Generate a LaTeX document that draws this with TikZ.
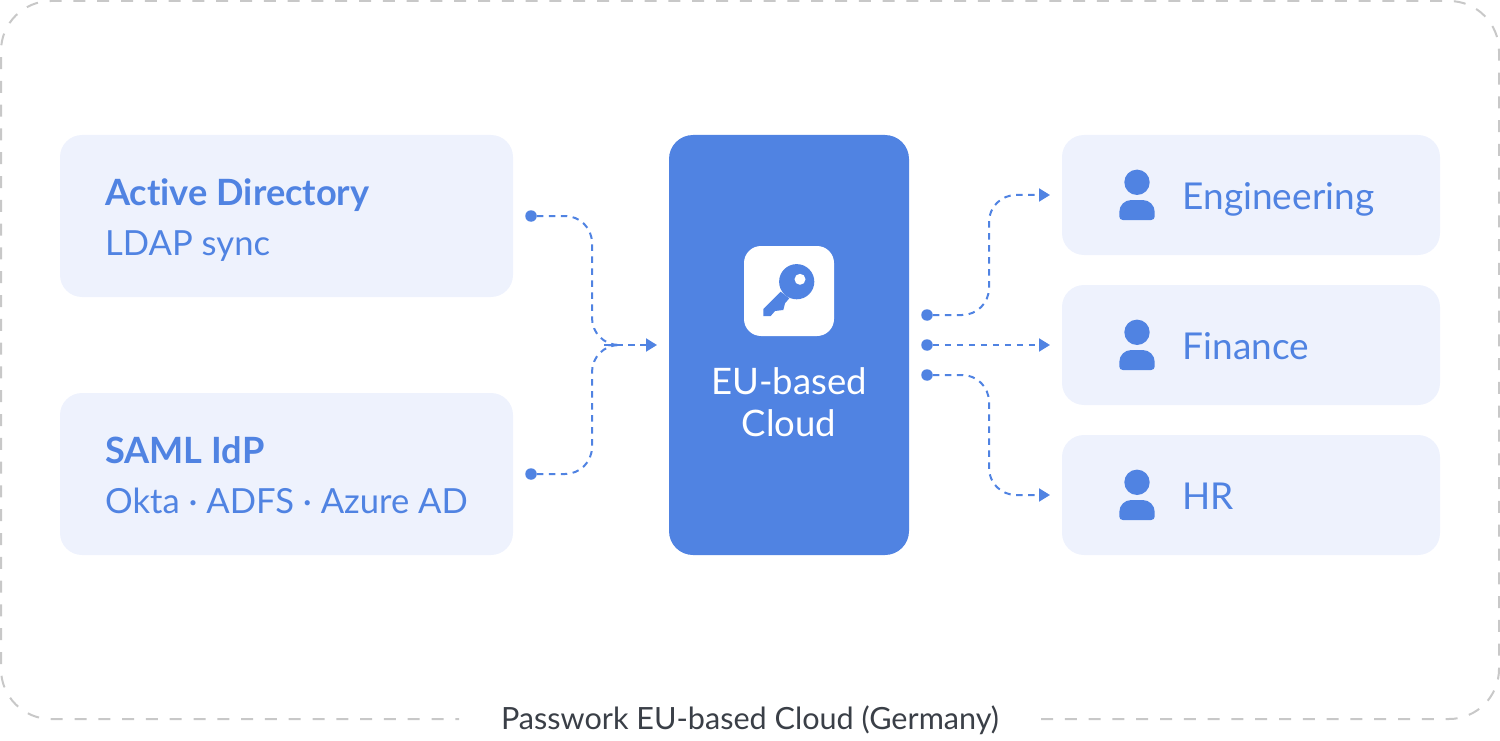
\documentclass[tikz,border=0pt]{standalone}
\usepackage{fontspec}
\setmainfont[Ligatures=NoCommon,Contextuals=NoAlternate]{Lato}
\usetikzlibrary{arrows.meta}
\definecolor{pblue}{HTML}{5083E2}
\definecolor{plight}{HTML}{EEF2FD}
\definecolor{pgrey}{HTML}{C8C8C8}
\definecolor{ptext}{HTML}{3A3F47}
\tikzset{
  panel/.style={fill=plight,rounded corners=22pt,inner sep=0pt,outer sep=0pt,anchor=north west},
  core/.style={fill=pblue,rounded corners=24pt,inner sep=0pt,outer sep=0pt,anchor=north west,minimum width=240pt,minimum height=420pt},
  srcbox/.style={panel,minimum width=453pt,minimum height=162pt},
  teambox/.style={panel,minimum width=378pt,minimum height=120pt},
  dotnode/.style={circle,fill=pblue,inner sep=0pt,minimum size=11.5pt,outer sep=0pt},
  flow/.style={draw=pblue,line width=2pt,dash pattern=on 6.5pt off 5.5pt,rounded corners=27pt},
  flowtip/.style={-{Triangle[length=11pt,width=13pt,fill=pblue]}},
  headtxt/.style={text=pblue,anchor=base west,inner sep=0pt,font=\fontsize{36.2}{40}\selectfont\bfseries},
  subtxt/.style={text=pblue,anchor=base west,inner sep=0pt,font=\fontsize{34.6}{40}\selectfont},
  teamtxt/.style={text=pblue,anchor=base west,inner sep=0pt,font=\fontsize{37}{40}\selectfont},
  person/.pic={
    \fill[pblue] (0,-14.7) circle (12.7pt);
    \fill[pblue] (-17.7,19.5) -- (-17.7,15) arc[start angle=180,end angle=90,radius=12pt]
       -- (5.7,3) arc[start angle=90,end angle=0,radius=12pt] -- (17.7,19.5)
       arc[start angle=0,end angle=-90,radius=3.5pt] -- (-14.2,23)
       arc[start angle=270,end angle=180,radius=3.5pt] -- cycle;
  }
}
\begin{document}
\begin{tikzpicture}[x=1pt,y=-1pt]
\useasboundingbox (0,0) rectangle (1500,741);
% outer dashed frame
\draw[pgrey,line width=2pt,dash pattern=on 12pt off 11.8pt,rounded corners=50pt]
  (1041,719) -- (1499,719) -- (1499,1) -- (1,1) -- (1,719) -- (459,719);
\node[text=ptext,inner sep=0pt,anchor=base,font=\fontsize{30.6}{34}\selectfont] (caption) at (750,729.5) {Passwork EU-based Cloud (Germany)};
% boxes
\node[srcbox] (ad) at (60,135) {};
\node[srcbox] (saml) at (60,393) {};
\node[core] (cloud) at (669,135) {};
\node[teambox] (eng) at (1062,135) {};
\node[teambox] (fin) at (1062,285) {};
\node[teambox] (hr) at (1062,435) {};
% box texts
\node[headtxt] (adt) at (105,205) {Active Directory};
\node[subtxt] (ads) at (105,255.5) {LDAP sync};
\node[headtxt] (samlt) at (105,463) {SAML IdP};
\node[subtxt] (samls) at (105,513.5) {Okta · ADFS · Azure AD};
\node[text=white,inner sep=0pt,align=center,font=\fontsize{36.5}{42}\selectfont,anchor=center] (cloudt) at (789,402) {EU-based\\Cloud};
\node[teamtxt] (engt) at (1182.5,209) {Engineering};
\node[teamtxt] (fint) at (1182.5,359) {Finance};
\node[teamtxt] (hrt) at (1182.5,509) {HR};
% person icons
\pic at (1137,197) {person};
\pic at (1137,347) {person};
\pic at (1137,497) {person};
% key icon
\node[fill=white,rounded corners=17pt,inner sep=0pt,outer sep=0pt,minimum size=90pt,anchor=north west] (keybox) at (744,246) {};
\fill[pblue] (796.7,281.7) circle (17.6pt);
\fill[pblue] (780.7,291.7) -- (763.3,309) -- (763.3,316) -- (770.7,316) -- (775,311) -- (783.3,310) -- (785,303.3) -- (789.3,298.3) -- cycle;
\fill[white] (800,279.3) circle (5.5pt);
% dots
\node[dotnode] (s1) at (531,216) {};
\node[dotnode] (s2) at (531,474) {};
\node[dotnode] (o1) at (927,315) {};
\node[dotnode] (o2) at (927,345) {};
\node[dotnode] (o3) at (927,375) {};
% arrow ends
\coordinate (in) at (657,345);
\coordinate (e1) at (1050,195);
\coordinate (e2) at (1050,345);
\coordinate (e3) at (1050,495);
% connectors
\draw[flow] (s1) -- (592,216) -- (592,345) -- (604,345);
\draw[flow] (s2) -- (592,474) -- (592,345) -- (604,345);
\draw[flow,flowtip,rounded corners=0pt] (604,345) -- (in);
\draw[flow,flowtip] (o1) -- (989,315) -- (989,195) -- (e1);
\draw[flow,flowtip,rounded corners=0pt] (o2) -- (e2);
\draw[flow,flowtip] (o3) -- (989,375) -- (989,495) -- (e3);
\end{tikzpicture}
\end{document}
